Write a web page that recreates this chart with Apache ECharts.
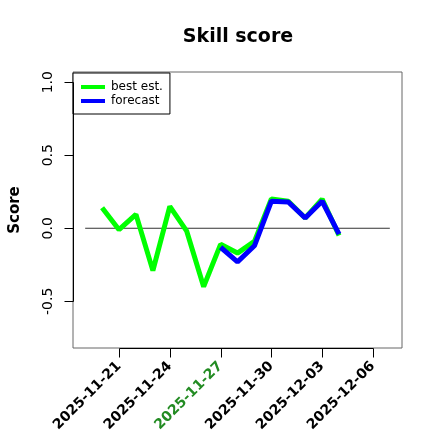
<!DOCTYPE html>
<html><head><meta charset="utf-8">
<script src="https://cdn.jsdelivr.net/npm/echarts@6/dist/echarts.min.js"></script>
<style>html,body{margin:0;padding:0;background:#fff}#c{width:440px;height:440px}</style>
</head><body><div id="c"></div>
<script>
// Day index 0 = 2025-11-19
const startDate = [2025, 10, 19];
const days = [1,2,3,4,5,6,7,8,9,10,11,12,13,14,15]; // Nov 20 .. Dec 4
const bestEst = [0.14,-0.01,0.095,-0.29,0.15,-0.02,-0.40,-0.11,-0.17,-0.09,0.20,0.185,0.07,0.20,-0.05];
const forecast = [null,null,null,null,null,null,null,-0.13,-0.23,-0.12,0.185,0.18,0.07,0.185,-0.04];
const zeroLineDays = [0, 18];
const zeroLineVals = [0, 0];
const xTickDays = [2,5,8,11,14,17];
const yTicks = [-0.5, 0, 0.5, 1.0];
const highlightDay = 8;

function dayLabel(d){
  const dt = new Date(Date.UTC(startDate[0], startDate[1], startDate[2] + Math.round(d)));
  return dt.toISOString().slice(0,10);
}
const font = 'DejaVu Sans';
const G = {left:73, right:38, top:72, bottom:92};
const chart = echarts.init(document.getElementById('c'), null, {renderer:'canvas'});
chart.setOption({
  animation:false,
  backgroundColor:'#fff',
  title:{text:'Skill score', left:233, top:23, textAlign:'center',
    textStyle:{fontFamily:font, fontWeight:'bold', fontSize:19, color:'#000'}},
  grid:{left:G.left, right:G.right, top:G.top, bottom:G.bottom, containLabel:false, outerBoundsMode:'none',
    show:true, borderColor:'#666', borderWidth:1, backgroundColor:'transparent'},
  legend:{left:73, top:73, orient:'vertical', itemWidth:24, itemHeight:4, itemGap:2,
    padding:[8,7,7,8], borderColor:'#000', borderWidth:1, backgroundColor:'#fff', borderRadius:0,
    icon:'rect',
    textStyle:{fontFamily:font, fontSize:12, color:'#000', padding:[0,0,0,1]},
    data:['best est.','forecast']},
  xAxis:{type:'value', min:-0.72, max:18.72,
    axisLine:{show:false, onZero:false}, splitLine:{show:false},
    axisTick:{show:false},
    axisLabel:{customValues:xTickDays, rotate:45, margin:16,
      fontFamily:font, fontWeight:'bold', fontSize:14,
      color:function(v){ return Math.round(v)===highlightDay ? '#228B22' : '#000'; },
      formatter:function(v){ return dayLabel(v); }}},
  yAxis:{type:'value', min:-0.82, max:1.07, name:'Score', nameLocation:'middle', nameGap:50,
    nameTextStyle:{fontFamily:font, fontWeight:'bold', fontSize:15, color:'#000'},
    axisLine:{show:false, onZero:false}, splitLine:{show:false},
    axisTick:{show:false},
    axisLabel:{customValues:yTicks, rotate:90, margin:18, fontFamily:font, fontSize:14, color:'#000',
      formatter:function(v){ return v.toFixed(1); }}},
  series:[
    {type:'line', name:'zero', data:zeroLineDays.map((d,i)=>[d,zeroLineVals[i]]), symbol:'none',
      lineStyle:{color:'#333', width:1}, silent:true, z:1},
    {type:'line', name:'best est.', data:days.map((d,i)=>[d,bestEst[i]]), symbol:'none',
      lineStyle:{color:'#00FF00', width:5}, itemStyle:{color:'#00FF00'}, z:2},
    {type:'line', name:'forecast', data:days.map((d,i)=>[d,forecast[i]]), symbol:'none', connectNulls:false,
      lineStyle:{color:'#0000FF', width:5}, itemStyle:{color:'#0000FF'}, z:3}
  ]
});
// R-style axis lines and ticks, placed through the chart's own scales
const tickLen = 9;
const xLeft = G.left + 0.5;
const yBottom = 440 - G.bottom + 0.5;
const yPx = yTicks.map(v => Math.round(chart.convertToPixel({gridIndex:0}, [0, v])[1]) + 0.5);
const xPx = xTickDays.map(v => Math.round(chart.convertToPixel({gridIndex:0}, [v, 0])[0]) + 0.5);
const g = [];
g.push({type:'line', z:100, zlevel:0, shape:{x1:xLeft, y1:Math.min(...yPx), x2:xLeft, y2:Math.max(...yPx)}, style:{stroke:'#000', lineWidth:1}});
g.push({type:'line', z:100, shape:{x1:Math.min(...xPx), y1:yBottom, x2:Math.max(...xPx), y2:yBottom}, style:{stroke:'#000', lineWidth:1}});
yPx.forEach(p => g.push({type:'line', z:100, shape:{x1:xLeft-tickLen, y1:p, x2:xLeft, y2:p}, style:{stroke:'#000', lineWidth:1}}));
xPx.forEach(p => g.push({type:'line', z:100, shape:{x1:p, y1:yBottom, x2:p, y2:yBottom+tickLen}, style:{stroke:'#000', lineWidth:1}}));
chart.setOption({graphic:{elements:g}});
</script></body></html>
